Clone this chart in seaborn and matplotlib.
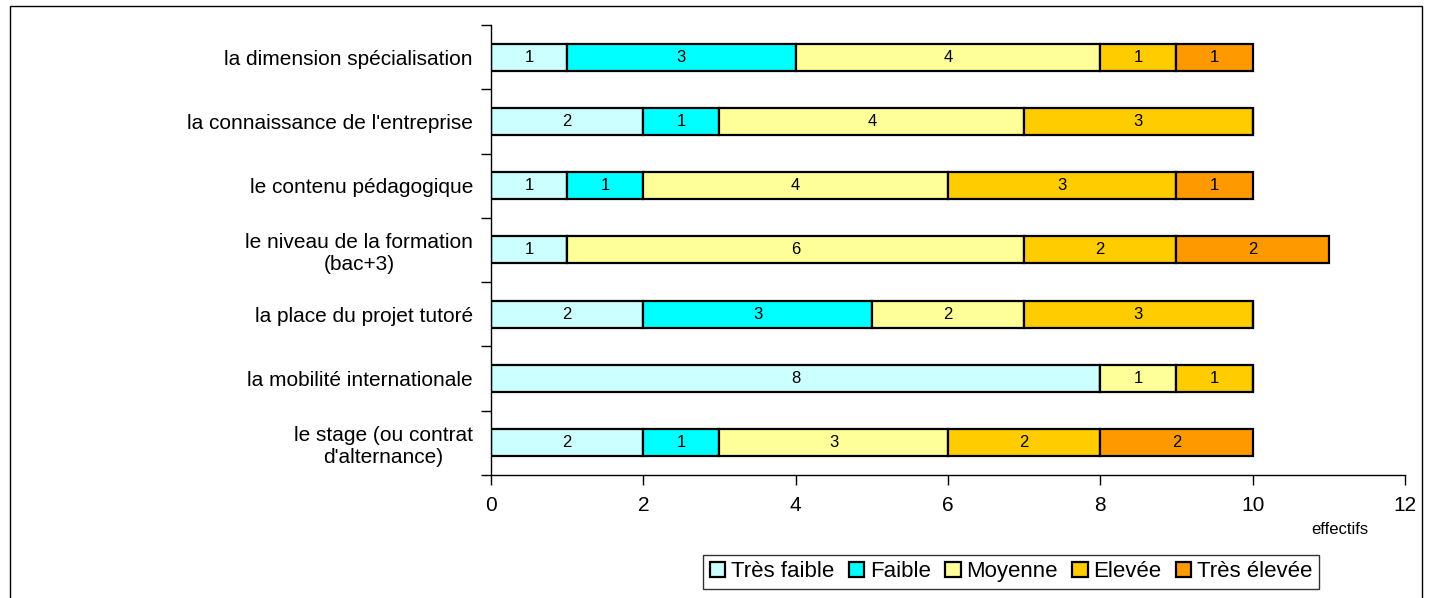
import numpy as np
import pandas as pd
import matplotlib
matplotlib.use("Agg")
import matplotlib.pyplot as plt
import seaborn as sns
from matplotlib.patches import Rectangle

# -----------------------------
# Data
# -----------------------------
criteres = [
    "la dimension spécialisation",
    "la connaissance de l'entreprise",
    "le contenu pédagogique",
    "le niveau de la formation\n(bac+3)",
    "la place du projet tutoré",
    "la mobilité internationale",
    "le stage (ou contrat\nd'alternance)",
]
niveaux = ["Très faible", "Faible", "Moyenne", "Elevée", "Très élevée"]

tres_faible = [1, 2, 1, 1, 2, 8, 2]
faible = [3, 1, 1, 0, 3, 0, 1]
moyenne = [4, 4, 4, 6, 2, 1, 3]
elevee = [1, 3, 3, 2, 3, 1, 2]
tres_elevee = [1, 0, 1, 2, 0, 0, 2]

couleurs = ["#CCFFFF", "#00FFFF", "#FFFF99", "#FFCC00", "#FF9900"]

series = [tres_faible, faible, moyenne, elevee, tres_elevee]

# -----------------------------
# Style
# -----------------------------
sns.set_style("white")
plt.rcParams["font.family"] = ["Liberation Sans", "DejaVu Sans"]
plt.rcParams["text.color"] = "black"
plt.rcParams["xtick.color"] = "black"
plt.rcParams["ytick.color"] = "black"
plt.rcParams["axes.labelcolor"] = "black"

fig = plt.figure(figsize=(14.31, 5.98), dpi=100)
ax = fig.add_axes([0.3431, 0.2057, 0.6387, 0.7525])

# -----------------------------
# Stacked horizontal bars
# -----------------------------
gauche = np.zeros(len(criteres))
for nom, vals, coul in zip(niveaux, series, couleurs):
    vals = np.array(vals)
    sns.barplot(x=vals, y=criteres, left=gauche, color=coul, width=0.42,
                edgecolor="black", linewidth=1.6, label=nom, ax=ax,
                saturation=1, orient="h")
    cont = ax.containers[-1]
    etiquettes = [str(v) if v > 0 else "" for v in vals]
    ax.bar_label(cont, labels=etiquettes, label_type="center", fontsize=12)
    gauche = gauche + vals

if ax.get_legend() is not None:
    ax.get_legend().remove()

# -----------------------------
# Axes
# -----------------------------
ax.set_xlim(0, 12)
ax.set_ylim(len(criteres) - 0.5, -0.5)
ax.set_xticks(np.arange(0, 13, 2))
ax.set_xlabel("")
ax.set_ylabel("")
ax.set_yticks(np.arange(-0.5, len(criteres), 1), minor=True)
ax.tick_params(axis="y", which="major", length=0, pad=13, labelsize=15)
ax.tick_params(axis="y", which="minor", length=7, width=1, color="black",
               direction="out", left=True)
ax.tick_params(axis="x", which="major", length=7, width=1, color="black",
               direction="out", bottom=True, pad=8, labelsize=15)
for lab in ax.get_yticklabels():
    lab.set_multialignment("center")

for s in ["top", "right"]:
    ax.spines[s].set_visible(False)
for s in ["left", "bottom"]:
    ax.spines[s].set_color("black")
    ax.spines[s].set_linewidth(1)

ax.text(0.929, -0.122, "effectifs", transform=ax.transAxes,
        ha="center", va="center", fontsize=12)

# -----------------------------
# Legend
# -----------------------------
handles, labels = ax.get_legend_handles_labels()
leg = fig.legend(handles, labels, loc="center", bbox_to_anchor=(0.7066, 0.0435),
                 ncol=5, fontsize=16, frameon=True, fancybox=False,
                 edgecolor="black", handlelength=0.7, handleheight=0.7,
                 handletextpad=0.25, columnspacing=0.65, borderpad=0.3)
leg.get_frame().set_linewidth(1)

# outer frame
fig.patches.append(Rectangle((0.007, -0.05), 0.9867, 1.04, transform=fig.transFigure,
                             fill=False, edgecolor="black", linewidth=1))

fig.savefig("out.png", dpi=100, facecolor="white")
